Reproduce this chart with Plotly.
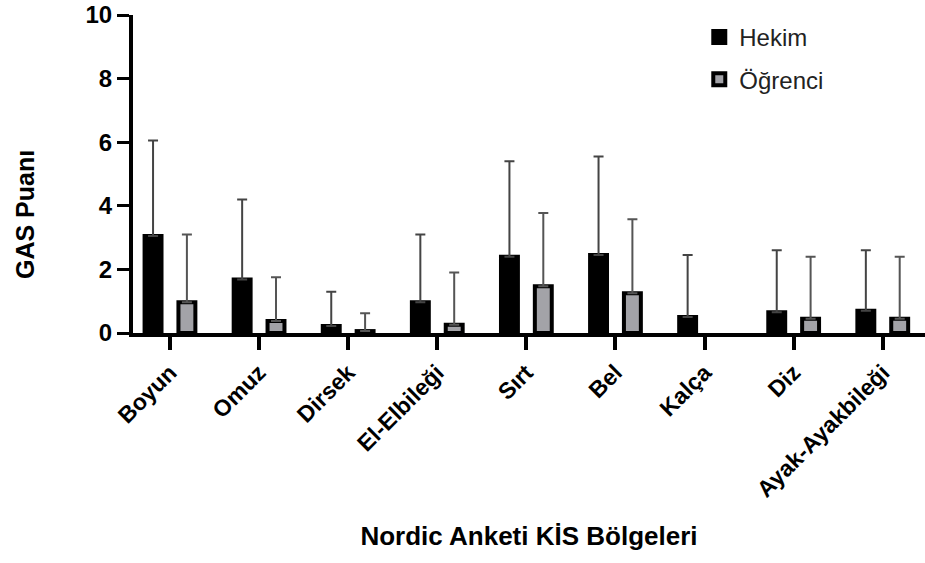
import plotly.graph_objects as go

categories = ["Boyun", "Omuz", "Dirsek", "El-Elbileği", "Sırt", "Bel", "Kalça", "Diz", "Ayak-Ayakbileği"]
hekim_mean = [3.05, 1.68, 0.22, 0.97, 2.4, 2.45, 0.5, 0.65, 0.7]
hekim_sd = [3.0, 2.52, 1.08, 2.13, 3.0, 3.1, 1.95, 1.95, 1.9]
ogrenci_mean = [0.97, 0.38, 0.06, 0.26, 1.47, 1.25, None, 0.45, 0.45]
ogrenci_sd = [2.13, 1.37, 0.56, 1.64, 2.3, 2.33, None, 1.95, 1.95]
y_ticks = [0, 2, 4, 6, 8, 10]

FONT = "Liberation Sans, Arial, sans-serif"

fig = go.Figure()
fig.add_bar(
    x=categories, y=hekim_mean, name="Hekim", legendgroup="a",
    width=0.19, offset=-0.285,
    marker=dict(color="black", line=dict(color="black", width=4)),
    error_y=dict(type="data", symmetric=False, array=hekim_sd,
                 arrayminus=[0] * len(hekim_sd), color="#444444", thickness=2, width=5),
)
fig.add_bar(
    x=categories, y=ogrenci_mean, name="Öğrenci", legendgroup="b",
    width=0.19, offset=0.095,
    marker=dict(color="#a3a3a8", line=dict(color="black", width=4)),
    error_y=dict(type="data", symmetric=False, array=ogrenci_sd,
                 arrayminus=[0] * len(ogrenci_sd), color="#555555", thickness=2, width=5),
)

fig.update_layout(
    width=925, height=563,
    margin=dict(l=133, r=0, t=15, b=230, autoexpand=False),
    plot_bgcolor="white", paper_bgcolor="white",
    font=dict(family=FONT, color="black"),
    showlegend=True,
    legend=dict(x=0.715, y=1.0, xanchor="left", yanchor="top",
                font=dict(size=24, color="#222222", family=FONT),
                tracegroupgap=8, bgcolor="rgba(0,0,0,0)"),
    xaxis=dict(
        range=[-0.415, 8.474], showline=True, linecolor="black", linewidth=4,
        ticks="outside", ticklen=13, tickwidth=4, tickcolor="black",
        tickangle=-45, showgrid=False, automargin=False,
        tickfont=dict(size=23, family=FONT, weight="bold", color="black"),
        title=dict(text="Nordic Anketi KİS Bölgeleri", standoff=27,
                   font=dict(size=26, family=FONT, weight="bold", color="black")),
    ),
    yaxis=dict(
        range=[0, 10], tickvals=y_ticks, showline=True, linecolor="black", linewidth=4,
        ticks="outside", ticklen=12, tickwidth=3, tickcolor="black",
        showgrid=False, zeroline=False, automargin=False,
        tickfont=dict(size=24, family=FONT, weight="bold", color="black"),
    ),
    annotations=[dict(
        text="GAS Puanı", xref="paper", yref="paper", x=-0.1364, y=0.374,
        xanchor="center", yanchor="middle", textangle=-90, showarrow=False,
        font=dict(size=25, family=FONT, weight="bold", color="black"),
    )],
)

fig.write_html("out.html", config={"displayModeBar": False},
               post_script="document.body.style.margin='0px';")
